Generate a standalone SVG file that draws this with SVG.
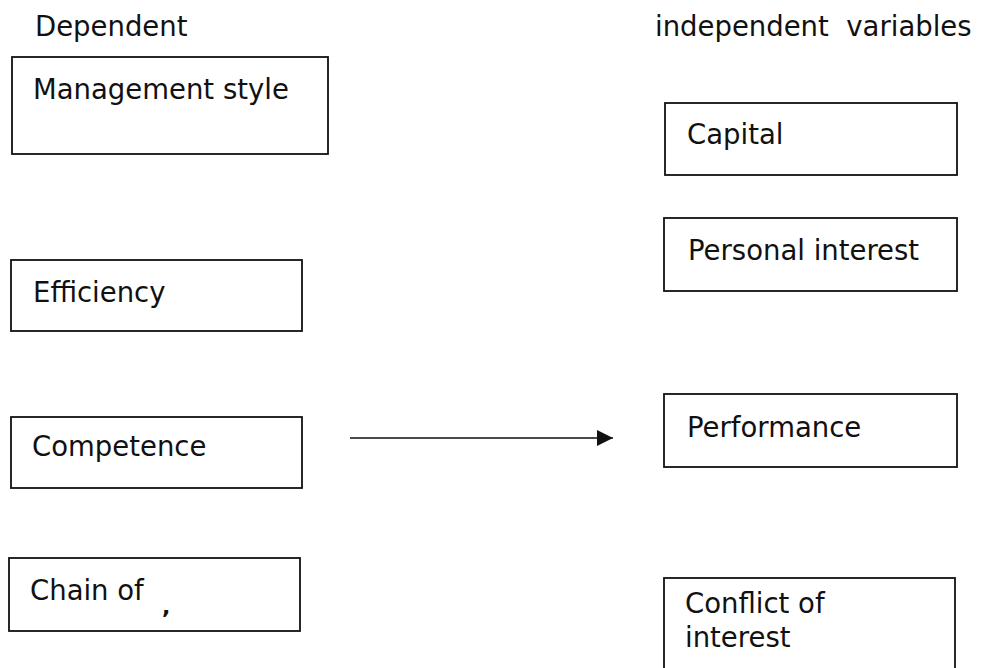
<svg xmlns="http://www.w3.org/2000/svg" width="981" height="668" viewBox="0 0 981 668">
<style>
text{font-family:"DejaVu Sans","Liberation Sans",sans-serif;font-size:27.5px;fill:#111}
.box{fill:#fff;stroke:#111;stroke-width:1.8}
.conn{stroke:#111;stroke-width:1.6;fill:none}
</style>
<defs>
<marker id="ah" markerWidth="17" markerHeight="18" refX="16" refY="9" orient="auto" markerUnits="userSpaceOnUse">
<path d="M0,1 L16,9 L0,17 Z" fill="#111"/>
</marker>
</defs>
<rect width="981" height="668" fill="#fff"/>
<g id="headers">
<text x="35" y="36">Dependent</text>
<text x="655" y="36" xml:space="preserve">independent  variables</text>
</g>
<g id="management-style"><rect class="box" x="12" y="57" width="316" height="97"/><text x="33" y="99">Management style</text></g>
<g id="efficiency"><rect class="box" x="11" y="260" width="291" height="71"/><text x="33" y="302">Efficiency</text></g>
<g id="competence"><rect class="box" x="11" y="417" width="291" height="71"/><text x="32" y="456">Competence</text></g>
<g id="chain-of"><rect class="box" x="9" y="558" width="291" height="73"/><text x="30" y="600">Chain of</text><text x="162" y="614" style="font-size:22px;font-weight:bold">,</text></g>
<g id="capital"><rect class="box" x="665" y="103" width="292" height="72"/><text x="687" y="144">Capital</text></g>
<g id="personal-interest"><rect class="box" x="664" y="218" width="293" height="73"/><text x="688" y="260">Personal interest</text></g>
<g id="performance"><rect class="box" x="664" y="394" width="293" height="73"/><text x="687" y="437">Performance</text></g>
<g id="conflict-of-interest"><rect class="box" x="664" y="578" width="291" height="100"/><text x="685" y="613">Conflict of</text><text x="685" y="647">interest</text></g>
<g id="connectors">
<line class="conn" x1="350" y1="438" x2="613" y2="438" marker-end="url(#ah)"/>
</g>
</svg>
